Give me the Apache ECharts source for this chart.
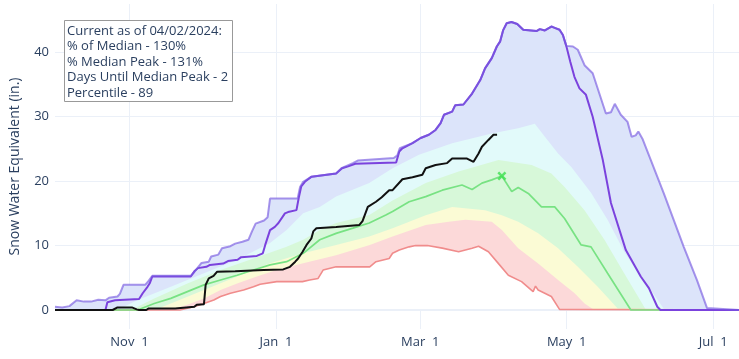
<!DOCTYPE html>
<html><head><meta charset="utf-8">
<script src="https://cdn.jsdelivr.net/npm/echarts@6/dist/echarts.min.js"></script>
<style>html,body{margin:0;padding:0;background:#fff}#c{width:739px;height:359px}</style>
</head><body><div id="c"></div>
<script>
// x = days since Oct 1, 2023 (water year 2024); y = Snow Water Equivalent (in.)
const tickDays = [31, 92, 152, 213, 274];
const tickLabels = ['Nov  1', 'Jan  1', 'Mar  1', 'May  1', 'Jul  1'];
const yTicks = [0, 10, 20, 30, 40];

const maxSwe = [[0,0.5],[3,0.4],[6,0.6],[9,1.5],[12,1.3],[15,1.3],[18,1.6],[21,1.5],[22.5,1.9],[26,2.1],[27,2.5],[28.5,3.9],[37.5,3.9],[38.5,4.3],[40.5,5.3],[56.5,5.3],[58,5.9],[59.5,6.6],[61,7.3],[64,7.5],[65,8.3],[68,8.6],[69.5,9.6],[73,9.9],[75,10.3],[78,10.6],[80.5,10.9],[82,12.2],[83.5,13.4],[87,13.9],[88.5,14.4],[89.5,17.3],[101,17.3],[102,19.1],[103.3,19.9],[106.8,20.7],[117,21.2],[119.2,22.0],[124,22.8],[126,23.2],[141,23.6],[142.5,24.0],[143.5,25.1],[148.8,25.9],[152.2,26.7],[155.6,27.2],[158.4,27.95],[160.5,29.0],[161.9,30.3],[165.3,30.8],[166.6,31.8],[170,31.9],[173.6,33.6],[177,35.7],[179,37.5],[181.8,39.1],[183.9,40.9],[185.3,41.7],[186.5,43.4],[188,44.5],[190,44.7],[192.4,44.4],[194.9,43.5],[200.4,43.3],[201.8,43.6],[203.9,43.4],[206.6,44.0],[208,43.8],[210,43.5],[211.4,42.7],[212.8,41.0],[215.6,40.9],[217.6,40.4],[220.4,38.0],[223.8,36.75],[229.3,30.5],[231.4,30.7],[233,32.0],[235.5,30.3],[238.3,29.2],[240,26.9],[241.7,27.1],[242.8,27.7],[244.5,26.6],[253.4,18.1],[261.7,9.8],[267.2,4.65],[271.4,0.3],[272,0],[285,0]];

const year2023 = [[0,0],[21,0],[21.8,1.2],[25,1.5],[35,1.7],[36.5,2.6],[38.5,3.6],[39.5,4.2],[40.5,5.2],[56.5,5.2],[58,6.0],[59.5,6.5],[63,6.7],[64.5,7.0],[70,7.2],[72,7.6],[76,7.8],[77.5,8.2],[84,8.4],[86.5,8.8],[87.5,10.1],[89.5,12.4],[91.5,12.9],[93,13.5],[95.7,15.0],[97,15.2],[100.5,15.5],[101.5,17.5],[102.5,19.2],[104,19.9],[106.8,20.7],[117,21.2],[119.5,22.0],[122,22.3],[125,22.7],[142,22.9],[143.3,24.6],[144.6,25.1],[148.8,25.9],[152.2,26.7],[155.6,27.2],[158.4,27.95],[160.5,29.0],[161.9,30.3],[165.3,30.8],[166.6,31.8],[170,31.9],[173.6,33.6],[177,35.7],[179,37.5],[181.8,39.1],[183.9,40.9],[185.3,41.7],[186.5,43.4],[188,44.5],[190,44.7],[192.4,44.4],[194.9,43.5],[200.4,43.3],[201.8,43.6],[203.9,43.4],[206.6,44.0],[208,43.8],[210,43.5],[211.4,42.7],[212.8,41.0],[214.5,38.5],[216.2,36.2],[218.3,34.4],[221,33.4],[223.8,30.0],[228,23.3],[231.4,16.6],[237.6,9.3],[243.8,5.2],[247.2,3.4],[250.7,0.5],[252,0],[285,0]];

const p90 = [[0,0],[26,0],[34.4,1.55],[48.2,3.6],[62,5.7],[75.8,7.8],[89.5,10.4],[96.4,12.4],[103.3,15.0],[110.2,16.0],[117,17.6],[130.8,19.7],[140.5,22.0],[151.5,24.1],[165.3,25.9],[181.8,27.4],[192.8,28.2],[199.7,28.9],[203.9,26.9],[209.4,24.3],[214.9,22.2],[223.1,18.2],[230,14.0],[237,9.0],[242.4,5.9],[248,3.1],[253.4,0.2],[254,0],[285,0]];

const p70 = [[0,0],[31.7,0],[41.3,1.8],[55.1,4.1],[68.9,6.2],[82.6,8.0],[96.4,9.8],[103.3,10.9],[110.2,12.4],[117,13.5],[130.8,14.75],[140.5,17.0],[154.3,19.7],[168,21.5],[184.6,23.3],[198.4,22.5],[206.6,21.2],[212.1,19.1],[220.4,15.5],[228.7,10.9],[236.9,5.7],[245.2,0.5],[246,0],[285,0]];

const median = [[0,0],[34.4,0],[41.3,1.0],[48.2,1.8],[55.1,2.85],[62,3.9],[68.9,4.65],[75.8,5.4],[82.6,6.2],[89.5,7.0],[96.4,7.5],[103.3,8.8],[110.2,10.9],[117,11.9],[124,12.7],[130.8,13.5],[137.7,14.75],[140.5,15.3],[147.4,16.8],[154.3,17.6],[161.2,18.6],[169.4,19.4],[173.6,18.7],[177.7,19.7],[181.8,20.2],[186,20.8],[190.1,18.4],[192.8,19.0],[197,18.1],[202.5,16.0],[208,16.0],[212.1,14.2],[219,10.1],[223.1,9.8],[230,5.7],[239.7,0],[285,0]];

const p30 = [[0,0],[41.3,0],[48.2,1.0],[62,3.1],[75.8,5.2],[89.5,7.25],[103.3,8.8],[117,10.1],[130.8,11.4],[140.5,12.7],[154.3,14.7],[165.3,16.0],[179,15.5],[186,14.7],[192.8,13.7],[201.1,11.9],[209.4,9.6],[217.6,6.7],[225.9,3.6],[234.2,0.25],[235,0],[285,0]];

const p10 = [[0,0],[48,0],[55,0.8],[62,1.8],[68.9,3.1],[75.8,4.1],[84,5.2],[92.3,6.2],[103.3,7.25],[117,8.5],[131,10.1],[140.5,11.4],[154.3,13.2],[163.9,13.7],[170.8,14.0],[181.8,13.7],[186,12.4],[192.8,9.6],[201.1,7.2],[209.4,4.65],[216.3,2.6],[220.4,1.0],[224.5,0],[285,0]];

const minSwe = [[0,0],[52,0],[57.8,0.5],[62,1.0],[66.1,1.55],[68.9,2.1],[73,2.6],[78.5,3.1],[82.6,3.6],[85.4,4.0],[92.3,4.4],[103,4.4],[106,4.65],[109.5,4.9],[111.6,6.2],[117,6.7],[131,6.7],[133.6,7.5],[139.1,8.0],[140.5,8.8],[143.3,9.3],[147.4,9.8],[150.1,10.0],[155,10.0],[161.2,9.6],[168,9.05],[173.6,9.6],[176.3,9.9],[180.4,9.05],[184.6,7.2],[188.7,5.4],[194.2,4.4],[199,2.85],[200,3.7],[201.1,3.1],[206.6,2.1],[210,0.1],[210.5,0],[285,0]];

const current = [[0,0],[24,0],[26,0.4],[32,0.4],[34,0.1],[35,0],[38,0],[39,0.25],[50,0.25],[50.5,0.5],[58,0.5],[59,0.8],[62,0.9],[62.7,3.9],[64,4.9],[66,5.3],[67.5,5.95],[75,6.0],[86.8,6.2],[95,6.3],[97.8,6.7],[100,7.5],[101.2,8.0],[103,9.0],[104.7,10.1],[106.7,11.1],[107.5,12.2],[108.8,12.7],[117,12.9],[126.7,13.2],[128,13.8],[130.2,16.0],[133.6,16.8],[136,17.5],[139.1,18.6],[140.5,18.6],[144.6,20.3],[148.8,20.6],[152.9,21.0],[154.3,22.0],[158.4,22.5],[163.2,22.8],[165.3,23.5],[171.5,23.5],[174.2,23.0],[176.3,24.3],[177.7,25.35],[180.4,26.4],[182.5,27.2],[184,27.2]];

const medianPeak = [[186, 20.8]];

const annotationLines = ['Current as of 04/02/2024:', '% of Median - 130%', '% Median Peak - 131%', 'Days Until Median Peak - 2', 'Percentile - 89'];

const chart = echarts.init(document.getElementById('c'), null, {renderer: 'canvas'});

function area(name, data, color, z) {
  return {name, type: 'line', data, symbol: 'none', showSymbol: false, silent: true, z,
    lineStyle: {width: 0, opacity: 0}, areaStyle: {color, opacity: 1}};
}
function line(name, data, color, width, z) {
  return {name, type: 'line', data, symbol: 'none', showSymbol: false, silent: true, z,
    lineStyle: {color, width}};
}
const xMark = 'path://M0,2 L2,0 L5,3 L8,0 L10,2 L7,5 L10,8 L8,10 L5,7 L2,10 L0,8 L3,5 Z';

chart.setOption({
  animation: false,
  backgroundColor: '#fff',
  grid: {left: 50, right: 0, top: 4, bottom: 30},
  xAxis: {
    type: 'value', min: 0, max: 284.7,
    axisLine: {show: false},
    axisTick: {show: false, customValues: tickDays},
    axisLabel: {customValues: tickDays, formatter: v => tickLabels[tickDays.indexOf(v)] || '',
      color: '#2a3f5f', fontSize: 13, fontFamily: 'Open Sans', margin: 7},
    splitLine: {show: true, lineStyle: {color: '#ebf0f8', width: 1}}
  },
  yAxis: {
    type: 'value', min: -2.95, max: 47.5,
    axisLine: {show: false},
    axisTick: {show: false, customValues: yTicks},
    axisLabel: {customValues: yTicks, color: '#2a3f5f', fontSize: 13, fontFamily: 'Open Sans', margin: 6},
    splitLine: {show: true, lineStyle: {color: '#ebf0f8', width: 1}},
    name: 'Snow Water Equivalent (in.)', nameLocation: 'middle', nameGap: 33,
    nameTextStyle: {color: '#2a3f5f', fontSize: 14, fontFamily: 'Open Sans'}
  },
  series: [
    area('Max fill', maxSwe, '#dce4fa', 1),
    area('90%', p90, '#e2fafa', 2),
    area('70%', p70, '#d7f8d9', 3),
    area('30%', p30, '#fbfbd5', 4),
    area('10%', p10, '#fcd9d9', 5),
    area('Min fill', minSwe, '#ffffff', 6),
    {type: 'line', data: [], silent: true, z: 7,
      markLine: {silent: true, symbol: 'none', z: 7, label: {show: false},
        lineStyle: {color: '#ebf0f8', width: 2, type: 'solid'}, data: [{yAxis: 0}]}},
    line('Min', minSwe, '#f08c8c', 1.6, 8),
    line('Median', median, '#78e283', 1.7, 9),
    line('2023', year2023, '#7b42dd', 2, 10),
    line('Max', maxSwe, 'rgba(120,90,225,0.65)', 2, 11),
    line('WY2024', current, '#111111', 2, 12),
    {name: 'Median Peak', type: 'scatter', data: medianPeak, symbol: xMark, symbolSize: 9,
      itemStyle: {color: '#3de04f'}, silent: true, z: 13}
  ],
  graphic: [
    {type: 'rect', shape: {x: 64.5, y: 20.5, width: 168, height: 81}, silent: true, z: 100,
      style: {fill: '#ffffff', stroke: '#999999', lineWidth: 1}},
    {type: 'text', x: 67, y: 23.3, silent: true, z: 101,
      style: {text: annotationLines.join('\n'), fill: '#2a3f5f', font: '13px "Open Sans"',
        lineHeight: 15.5, verticalAlign: 'top', align: 'left'}}
  ]
});
</script></body></html>
